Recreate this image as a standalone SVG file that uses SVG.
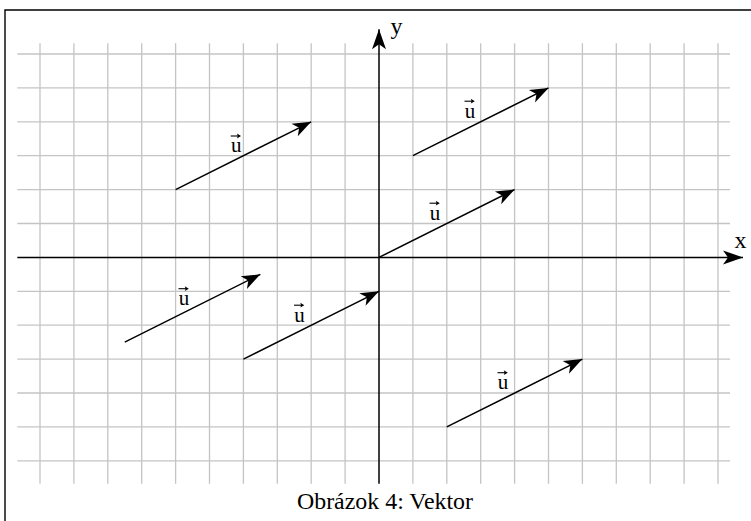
<svg xmlns="http://www.w3.org/2000/svg" width="751" height="521" viewBox="0 0 751 521">
<style>
.grid line{stroke:#c4c4c4;stroke-width:1.3}
.axis{stroke:#000;stroke-width:1.5;fill:none}
.vec{stroke:#000;stroke-width:1.5;fill:none}
.t{font-family:"Liberation Serif","Times New Roman",serif;fill:#000}
.lbl{font-size:21px;text-anchor:middle}
.ax{font-size:24px;text-anchor:middle}
.cap{font-size:23.9px;text-anchor:middle}
</style>
<defs>
<marker id="ah" markerUnits="userSpaceOnUse" markerWidth="24" markerHeight="18" viewBox="-20 -9 22 18" refX="0" refY="0" orient="auto">
<path d="M0,0 L-18.5,-7 L-13.5,0 L-18.5,7 Z" fill="#000"/>
</marker>
<marker id="axh" markerUnits="userSpaceOnUse" markerWidth="24" markerHeight="18" viewBox="-22 -9 24 18" refX="0" refY="0" orient="auto">
<path d="M0,0 L-20,-7 L-15,0 L-20,7 Z" fill="#000"/>
</marker>
<g id="uacc">
<path d="M-5.5,0 H2.5" stroke="#000" stroke-width="1.1"/>
<path d="M4.8,0 L0.8,-2.4 L1.6,0 L0.8,2.4 Z" fill="#000"/>
</g>
</defs>
<g id="frame">
<path d="M5,521 V10 H751" stroke="#000" stroke-width="1.4" fill="none"/>
</g>
<g id="grid" class="grid">
<line x1="40" y1="43.3" x2="40" y2="483.7"/>
<line x1="73.9" y1="43.3" x2="73.9" y2="483.7"/>
<line x1="107.8" y1="43.3" x2="107.8" y2="483.7"/>
<line x1="141.7" y1="43.3" x2="141.7" y2="483.7"/>
<line x1="175.6" y1="43.3" x2="175.6" y2="483.7"/>
<line x1="209.5" y1="43.3" x2="209.5" y2="483.7"/>
<line x1="243.4" y1="43.3" x2="243.4" y2="483.7"/>
<line x1="277.3" y1="43.3" x2="277.3" y2="483.7"/>
<line x1="311.2" y1="43.3" x2="311.2" y2="483.7"/>
<line x1="345.1" y1="43.3" x2="345.1" y2="483.7"/>
<line x1="412.9" y1="43.3" x2="412.9" y2="483.7"/>
<line x1="446.8" y1="43.3" x2="446.8" y2="483.7"/>
<line x1="480.7" y1="43.3" x2="480.7" y2="483.7"/>
<line x1="514.6" y1="43.3" x2="514.6" y2="483.7"/>
<line x1="548.5" y1="43.3" x2="548.5" y2="483.7"/>
<line x1="582.4" y1="43.3" x2="582.4" y2="483.7"/>
<line x1="616.3" y1="43.3" x2="616.3" y2="483.7"/>
<line x1="650.2" y1="43.3" x2="650.2" y2="483.7"/>
<line x1="684.1" y1="43.3" x2="684.1" y2="483.7"/>
<line x1="718" y1="43.3" x2="718" y2="483.7"/>
<line x1="17.3" y1="54" x2="730" y2="54"/>
<line x1="17.3" y1="87.9" x2="730" y2="87.9"/>
<line x1="17.3" y1="121.8" x2="730" y2="121.8"/>
<line x1="17.3" y1="155.7" x2="730" y2="155.7"/>
<line x1="17.3" y1="189.6" x2="730" y2="189.6"/>
<line x1="17.3" y1="223.5" x2="730" y2="223.5"/>
<line x1="17.3" y1="291.3" x2="730" y2="291.3"/>
<line x1="17.3" y1="325.2" x2="730" y2="325.2"/>
<line x1="17.3" y1="359.1" x2="730" y2="359.1"/>
<line x1="17.3" y1="393" x2="730" y2="393"/>
<line x1="17.3" y1="426.9" x2="730" y2="426.9"/>
<line x1="17.3" y1="460.8" x2="730" y2="460.8"/>
</g>
<g id="axes">
<line class="axis" x1="17.3" y1="257.4" x2="743" y2="257.4" marker-end="url(#axh)"/>
<line class="axis" x1="379" y1="483.7" x2="379" y2="29.3" marker-end="url(#axh)"/>
<text class="t ax" x="740.5" y="247.5">x</text>
<text class="t ax" x="396.5" y="34">y</text>
</g>
<g id="connectors">
<line class="vec" x1="175.6" y1="189.6" x2="311.2" y2="121.8" marker-end="url(#ah)"/>
<line class="vec" x1="412.9" y1="155.7" x2="548.5" y2="87.9" marker-end="url(#ah)"/>
<line class="vec" x1="379" y1="257.4" x2="514.6" y2="189.6" marker-end="url(#ah)"/>
<line class="vec" x1="124.75" y1="342.15" x2="260.35" y2="274.35" marker-end="url(#ah)"/>
<line class="vec" x1="243.4" y1="359.1" x2="379" y2="291.3" marker-end="url(#ah)"/>
<line class="vec" x1="446.8" y1="426.9" x2="582.4" y2="359.1" marker-end="url(#ah)"/>
</g>
<g id="label-u1"><text class="t lbl" x="236.2" y="152.3">u</text><use href="#uacc" x="236.2" y="136"/></g>
<g id="label-u2"><text class="t lbl" x="470" y="117.5">u</text><use href="#uacc" x="470" y="101.2"/></g>
<g id="label-u3"><text class="t lbl" x="435" y="219.5">u</text><use href="#uacc" x="435" y="203.2"/></g>
<g id="label-u4"><text class="t lbl" x="184" y="305">u</text><use href="#uacc" x="184" y="288.7"/></g>
<g id="label-u5"><text class="t lbl" x="299.5" y="321.5">u</text><use href="#uacc" x="299.5" y="305.2"/></g>
<g id="label-u6"><text class="t lbl" x="503" y="389">u</text><use href="#uacc" x="503" y="372.7"/></g>
<g id="caption"><text class="t cap" x="385" y="509">Obrázok 4: Vektor</text></g>
</svg>
